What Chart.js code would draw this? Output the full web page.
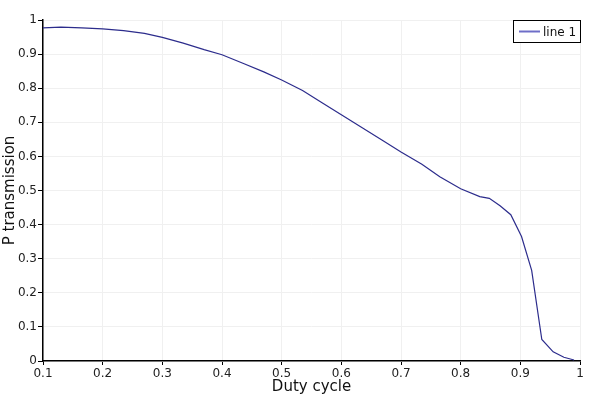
<!DOCTYPE html>
<html>
<head>
<meta charset="utf-8">
<script src="https://cdn.jsdelivr.net/npm/chart.js@4"></script>
<style>
  html, body { margin: 0; padding: 0; background: #fff; }
  #wrap { width: 600px; height: 400px; }
</style>
</head>
<body>
<div id="wrap"><canvas id="dutyChart" width="600" height="400"></canvas></div>
<script>
// ── Data ───────────────────────────────────────────────────
const dutyCycle = [0.1, 0.13, 0.165, 0.2, 0.235, 0.27, 0.3, 0.335, 0.37, 0.4,
  0.435, 0.47, 0.5, 0.535, 0.565, 0.6, 0.635, 0.67, 0.7, 0.735, 0.765, 0.8,
  0.832, 0.848, 0.866, 0.884, 0.902, 0.919, 0.936, 0.955, 0.973, 0.99];
const pTransmission = [0.977, 0.979, 0.977, 0.974, 0.969, 0.961, 0.949, 0.932, 0.913, 0.898,
  0.873, 0.848, 0.824, 0.793, 0.760, 0.722, 0.684, 0.646, 0.613, 0.577, 0.540, 0.505,
  0.482, 0.477, 0.455, 0.429, 0.365, 0.266, 0.063, 0.027, 0.011, 0.003];
const seriesLabel = 'line 1';
const xTitle = 'Duty cycle';
const yTitle = 'P transmission';

const fontFamily = '"DejaVu Sans", Verdana, sans-serif';
const lineColor = '#2c2c8c';

// ── Legend box drawn inside the plot (top right) ───────────
const insideLegend = {
  id: 'insideLegend',
  afterDraw(chart) {
    const { ctx, chartArea } = chart;
    const w = 68, h = 23;
    const x = chartArea.right - w + 1, y = chartArea.top;
    ctx.save();
    ctx.fillStyle = '#fff';
    ctx.fillRect(x, y, w, h);
    ctx.strokeStyle = '#000';
    ctx.lineWidth = 1;
    ctx.strokeRect(x + 0.5, y + 0.5, w - 1, h - 1);
    ctx.strokeStyle = '#6e6ec8';
    ctx.lineWidth = 2;
    ctx.beginPath();
    ctx.moveTo(x + 6, y + 11.5);
    ctx.lineTo(x + 27, y + 11.5);
    ctx.stroke();
    ctx.fillStyle = '#111';
    ctx.font = '12px ' + fontFamily;
    ctx.textBaseline = 'middle';
    ctx.fillText(chart.data.datasets[0].label, x + 30, y + 12.5);
    ctx.restore();
  }
};

const fmt = v => String(+Number(v).toFixed(1));

new Chart(document.getElementById('dutyChart').getContext('2d'), {
  type: 'line',
  data: {
    datasets: [{
      label: seriesLabel,
      data: dutyCycle.map((x, i) => ({ x, y: pTransmission[i] })),
      borderColor: lineColor,
      borderWidth: 1.2,
      pointRadius: 0,
      tension: 0,
      fill: false,
    }]
  },
  options: {
    responsive: false,
    animation: false,
    layout: { padding: { top: 20, right: 20, left: 0, bottom: 0 } },
    plugins: { legend: { display: false }, tooltip: { enabled: false } },
    scales: {
      x: {
        type: 'linear',
        min: 0.1, max: 1,
        afterFit: s => { s.height = 39; },
        border: { color: '#000', width: 1.5 },
        grid: { color: '#f0f0f0', tickColor: '#000', tickLength: 4 },
        ticks: {
          stepSize: 0.1, callback: fmt, color: '#222', padding: 2,
          font: { family: fontFamily, size: 12 }, maxRotation: 0
        },
        title: {
          display: true, text: xTitle, color: '#111', padding: { top: 0, bottom: 4 },
          font: { family: fontFamily, size: 15 }
        }
      },
      y: {
        min: 0, max: 1,
        afterFit: s => { s.width = 43; },
        border: { color: '#000', width: 1.5 },
        grid: { color: '#f0f0f0', tickColor: '#000', tickLength: 5 },
        ticks: {
          stepSize: 0.1, callback: fmt, color: '#222', padding: 1,
          font: { family: fontFamily, size: 12 }
        },
        title: {
          display: true, text: yTitle, color: '#111', padding: { top: 1, bottom: 0 },
          font: { family: fontFamily, size: 15 }
        }
      }
    }
  },
  plugins: [insideLegend]
});
</script>
</body>
</html>
